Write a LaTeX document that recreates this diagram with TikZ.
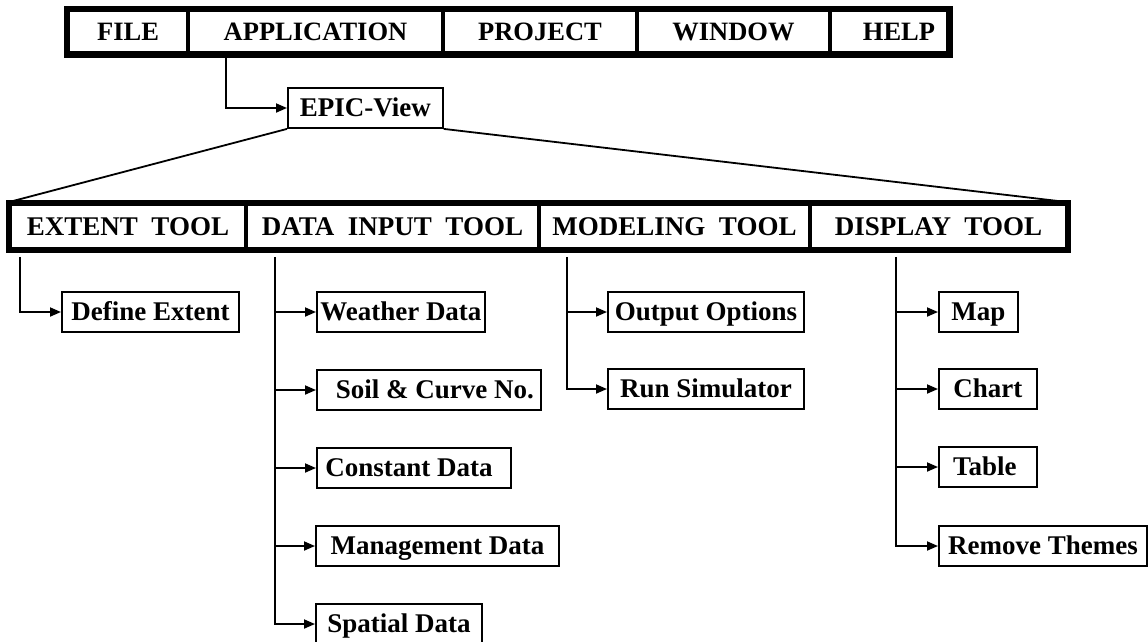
\documentclass[tikz,border=0pt]{standalone}
\usepackage{fontspec}
\setmainfont{Liberation Serif}
\usetikzlibrary{arrows.meta,calc}
\tikzset{
  menucell/.style={draw, line width=4pt, inner sep=0pt, anchor=center, minimum height=43pt,
    text height=18pt, text depth=1pt,
    font=\fontsize{26.5}{30}\selectfont\bfseries},
  toolcell/.style={draw, line width=3.5pt, inner sep=0pt, anchor=center, minimum height=45pt,
    text height=19pt, text depth=1pt,
    font=\fontsize{27}{30}\selectfont\bfseries},
  itembox/.style={draw, line width=1.8pt, inner sep=0pt, anchor=west, minimum height=40pt,
    text height=19pt, text depth=3pt,
    font=\fontsize{27}{30}\selectfont\bfseries},
  conn/.style={line width=1.8pt},
  arr/.style={line width=1.8pt, -{Triangle[length=11pt,width=9pt]}},
  frame/.style={line width=5pt}
}
\begin{document}
\begin{tikzpicture}[x=1pt,y=-1pt]
\useasboundingbox (0,0) rectangle (1148,641);
% menu bar
\node[menucell, minimum width=120pt] (file) at (128,31.5) {FILE};
\node[menucell, minimum width=255pt] (app) at (315.5,31.5) {APPLICATION};
\node[menucell, minimum width=194pt] (proj) at (540,31.5) {PROJECT};
\node[menucell, minimum width=193pt] (win) at (733.5,31.5) {WINDOW};
\node[menucell, minimum width=118pt] (help) at (889,31.5) {\hspace*{20pt}HELP};
\draw[frame] (file.north west) rectangle (help.south east);
% EPIC-View
\node[itembox, minimum width=155pt] (epic) at (287,108) {EPIC-View};
\coordinate (appdrop) at ($(app.south west)+(40,0)$);
\draw[arr] (appdrop) |- (epic.west);
% tool bar
\node[toolcell, minimum width=236pt] (ext) at (128,226.5) {EXTENT\ \ TOOL};
\node[toolcell, minimum width=293pt] (data) at (392.5,226.5) {DATA\ \ INPUT\ \ TOOL};
\node[toolcell, minimum width=271pt] (model) at (674.5,226.5) {MODELING\ \ TOOL};
\node[toolcell, minimum width=257pt] (disp) at (938.5,226.5) {DISPLAY\ \ TOOL};
\draw[frame] (ext.north west) rectangle (disp.south east);
\draw[conn] (epic.south west) -- (ext.north west);
\draw[conn] (epic.south east) -- (disp.north east);
% extent tool
\node[itembox, minimum width=177pt] (defext) at (61,312) {Define Extent};
\coordinate (extdrop) at ($(ext.south west)+(12,6)$);
\draw[arr] (extdrop) |- (defext.west);
% data input tool
\node[itembox, minimum width=168pt] (weather) at (316,312) {Weather Data};
\node[itembox, minimum width=224pt] (soil) at (316,390) {\hspace*{12pt}Soil \& Curve No.};
\node[itembox, minimum width=194pt] (const) at (316,468) {Constant Data\hspace*{10pt}};
\node[itembox, minimum width=243pt] (manage) at (315,546) {Management Data};
\node[itembox, minimum width=166pt] (spatial) at (315,624) {Spatial Data};
\coordinate (datadrop) at ($(data.south west)+(31,6)$);
\draw[arr] (datadrop) |- (spatial.west);
\draw[arr] (datadrop |- weather.west) -- (weather.west);
\draw[arr] (datadrop |- soil.west) -- (soil.west);
\draw[arr] (datadrop |- const.west) -- (const.west);
\draw[arr] (datadrop |- manage.west) -- (manage.west);
% modeling tool
\node[itembox, minimum width=196pt] (outopt) at (607,312) {Output Options};
\node[itembox, minimum width=196pt] (runsim) at (607,389) {Run Simulator};
\coordinate (modeldrop) at ($(model.south west)+(30,6)$);
\draw[arr] (modeldrop) |- (runsim.west);
\draw[arr] (modeldrop |- outopt.west) -- (outopt.west);
% display tool
\node[itembox, minimum width=79pt] (map) at (938,312) {Map};
\node[itembox, minimum width=98pt] (chart) at (938,389) {Chart};
\node[itembox, minimum width=98pt] (table) at (938,467) {Table\hspace*{6pt}};
\node[itembox, minimum width=208pt] (remove) at (938,546) {Remove Themes};
\coordinate (dispdrop) at ($(disp.south west)+(88,6)$);
\draw[arr] (dispdrop) |- (remove.west);
\draw[arr] (dispdrop |- map.west) -- (map.west);
\draw[arr] (dispdrop |- chart.west) -- (chart.west);
\draw[arr] (dispdrop |- table.west) -- (table.west);
\end{tikzpicture}
\end{document}
